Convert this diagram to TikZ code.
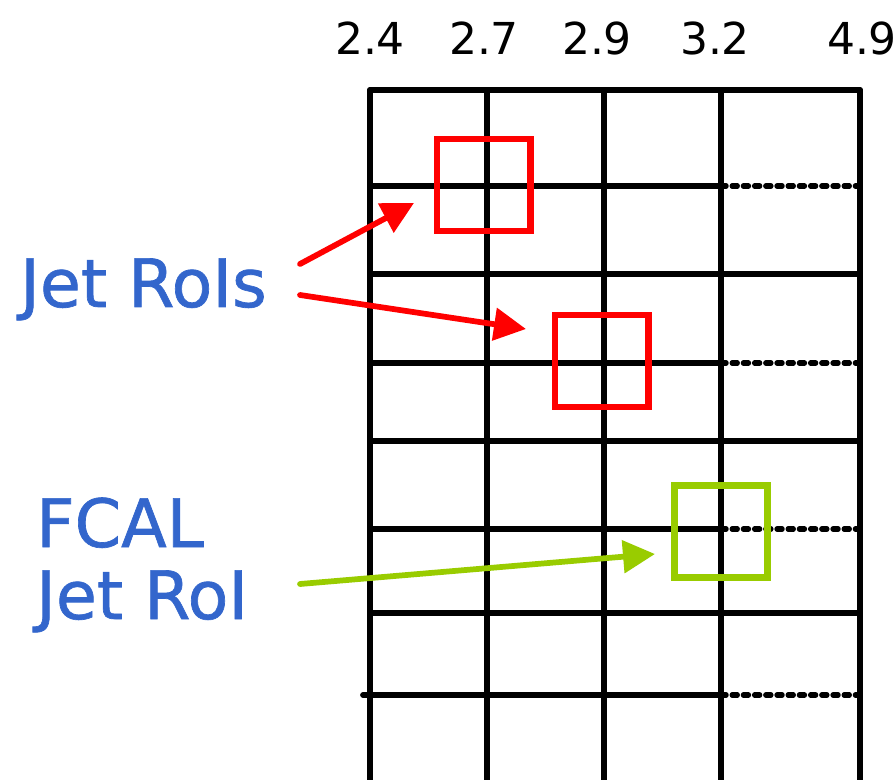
\documentclass[tikz,border=0pt]{standalone}
\usepackage{fontspec}
\setmainfont{DejaVu Sans}
\newfontfamily\handfont{DejaVu Sans}[BoldFont={DejaVu Sans}, BoldFeatures={FakeBold=1.0}]
\usetikzlibrary{arrows.meta}
\definecolor{labelblue}{HTML}{3366CC}
\definecolor{roired}{HTML}{FF0000}
\definecolor{roigreen}{HTML}{99CC00}
\begin{document}
\begin{tikzpicture}[x=0.75pt,y=-0.75pt,
  gridline/.style={line width=4.3pt, line cap=round},
  dotline/.style={line width=4pt, line cap=round, dash pattern=on 3.8pt off 4.6pt},
  roibox/.style={draw, line width=5pt, minimum width=70pt, minimum height=69pt, inner sep=0pt},
  pointer/.style={line width=4.3pt, line cap=round, -{Triangle[length=24pt,width=24pt]}},
  etalabel/.style={anchor=base, font=\handfont\fontsize{33}{40}\selectfont},
  bluelabel/.style={anchor=base west, text=labelblue, font=\handfont\bfseries\fontsize{50}{58}\selectfont, inner sep=0pt}]
\useasboundingbox (0,0) rectangle (896,780);
\clip (0,0) rectangle (896,780);

% eta boundaries of the grid columns
\node[etalabel] (e24) at (370,55) {2.4};
\node[etalabel] (e27) at (484,55) {2.7};
\node[etalabel] (e29) at (597,55) {2.9};
\node[etalabel] (e32) at (715,55) {3.2};
\node[etalabel] (e49) at (862,55) {4.9};

% vertical grid lines
\foreach \x in {370,487,604,721,860}
  \draw[gridline] (\x,90) -- (\x,800);

% rows that run solid to the edge
\foreach \y in {90,274,441,613}
  \draw[gridline] (370,\y) -- (860,\y);

% rows whose last cell is only dotted
\foreach \y in {186,363,529}{
  \draw[gridline] (370,\y) -- (721,\y);
  \draw[dotline] (721,\y) -- (860,\y);
}
\draw[gridline] (363,695) -- (721,695);
\draw[dotline] (721,695) -- (860,695);

% regions of interest
\node[roibox, draw=roired] (roiA) at (483.5,185) {};
\node[roibox, draw=roired] (roiB) at (601.5,361) {};
\node[roibox, draw=roigreen] (roiF) at (721,531.5) {};

% labels
\node[bluelabel] (jets) at (20,307) {Jet RoIs};
\node[bluelabel] (fcal) at (36,547) {FCAL};
\node[bluelabel] (fjet) at (36,619) {Jet RoI};

% pointers
\coordinate (sA) at (300,264);
\coordinate (tA) at (414,203);
\coordinate (sB) at (300,295);
\coordinate (tB) at (526,329);
\coordinate (sF) at (300,584);
\coordinate (tF) at (655,554);
\draw[pointer, draw=roired, fill=roired] (sA) -- (tA);
\draw[pointer, draw=roired, fill=roired] (sB) -- (tB);
\draw[pointer, draw=roigreen, fill=roigreen] (sF) -- (tF);
\end{tikzpicture}
\end{document}
